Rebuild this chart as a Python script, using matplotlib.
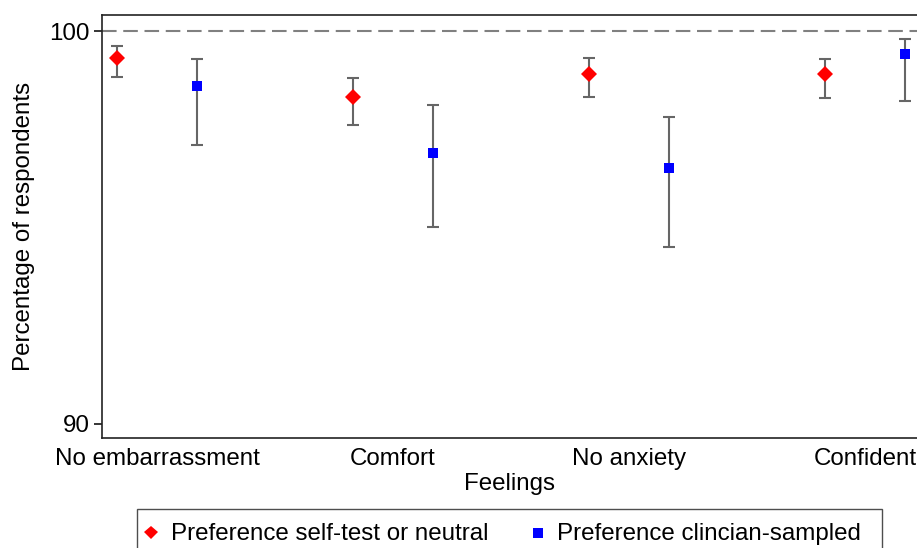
"""Feelings by sampling preference, with 95% CI error bars."""

import matplotlib.pyplot as plt
import numpy as np
from matplotlib.lines import Line2D
from matplotlib.markers import MarkerStyle
from matplotlib.transforms import Affine2D

plt.rcParams["font.family"] = ["Liberation Sans", "DejaVu Sans"]

categories = ["No embarrassment", "Comfort", "No anxiety", "Confident"]

self_test_mean = [99.31, 98.31, 98.91, 98.91]
self_test_low = [98.83, 97.61, 98.31, 98.30]
self_test_high = [99.62, 98.81, 99.32, 99.30]

clinician_mean = [98.60, 96.90, 96.51, 99.41]
clinician_low = [97.10, 95.01, 94.51, 98.21]
clinician_high = [99.29, 98.11, 97.81, 99.80]


def plot_series(ax, x, mean, low, high, marker, color, size):
    mean = np.asarray(mean)
    yerr = [mean - np.asarray(low), np.asarray(high) - mean]
    ax.errorbar(
        x, mean, yerr=yerr, fmt="none", ecolor="#666666",
        elinewidth=1.5, capsize=4.5, capthick=1.5, zorder=2,
    )
    ax.plot(x, mean, linestyle="none", marker=marker, color=color,
            markersize=size, markeredgewidth=0, zorder=3)


def main() -> None:
    fig = plt.figure(figsize=(9.17, 5.48), dpi=100)
    ax = fig.add_axes([0.1112, 0.2007, 0.8888, 0.7719])

    x = np.arange(len(categories))
    offset = 0.168

    ax.axhline(100, color="#808080", linewidth=1.5,
               linestyle=(0, (7, 3.2)), zorder=1)

    plot_series(ax, x - offset, self_test_mean, self_test_low,
                self_test_high, "D", "#ff0000", 8)
    plot_series(ax, x + offset, clinician_mean, clinician_low,
                clinician_high, "s", "#0000ff", 6.8)

    ax.set_xlim(-0.233, 3.22)
    ax.set_ylim(89.64, 100.41)
    ax.set_yticks([90, 100])
    ax.set_xticks(x)
    ax.set_xticklabels(categories)
    ax.tick_params(axis="y", length=6, width=1.1, labelsize=17.4, pad=3)
    ax.tick_params(axis="x", length=0, labelsize=17.4, pad=7)

    for side in ["left", "bottom", "top"]:
        ax.spines[side].set_linewidth(1.2)
        ax.spines[side].set_color("#222222")
    ax.spines["right"].set_visible(False)

    ax.set_xlabel("Feelings", fontsize=17.4, labelpad=2)
    ax.set_ylabel("Percentage of respondents", fontsize=17.4, labelpad=10)

    # legend markers nudged down so they sit level with the text
    shift = Affine2D().translate(0, -0.45)
    handles = [
        Line2D([], [], linestyle="none",
               marker=MarkerStyle("D", transform=shift), color="#ff0000",
               markersize=7, markeredgewidth=0),
        Line2D([], [], linestyle="none",
               marker=MarkerStyle("s", transform=shift), color="#0000ff",
               markersize=7.2, markeredgewidth=0),
    ]
    labels = ["Preference self-test or neutral",
              "Preference clincian-sampled  "]
    leg = fig.legend(
        handles, labels, loc="upper left", bbox_to_anchor=(0.1494, 0.0712),
        ncol=2, fontsize=17.4, frameon=True, fancybox=False,
        handlelength=0.6, handleheight=1.6, handletextpad=0.5,
        columnspacing=1.75, borderpad=0.3, borderaxespad=0,
    )
    leg.get_frame().set_edgecolor("#222222")
    leg.get_frame().set_linewidth(1.0)

    fig.savefig("out.png", dpi=100)
    plt.close(fig)


if __name__ == "__main__":
    main()
